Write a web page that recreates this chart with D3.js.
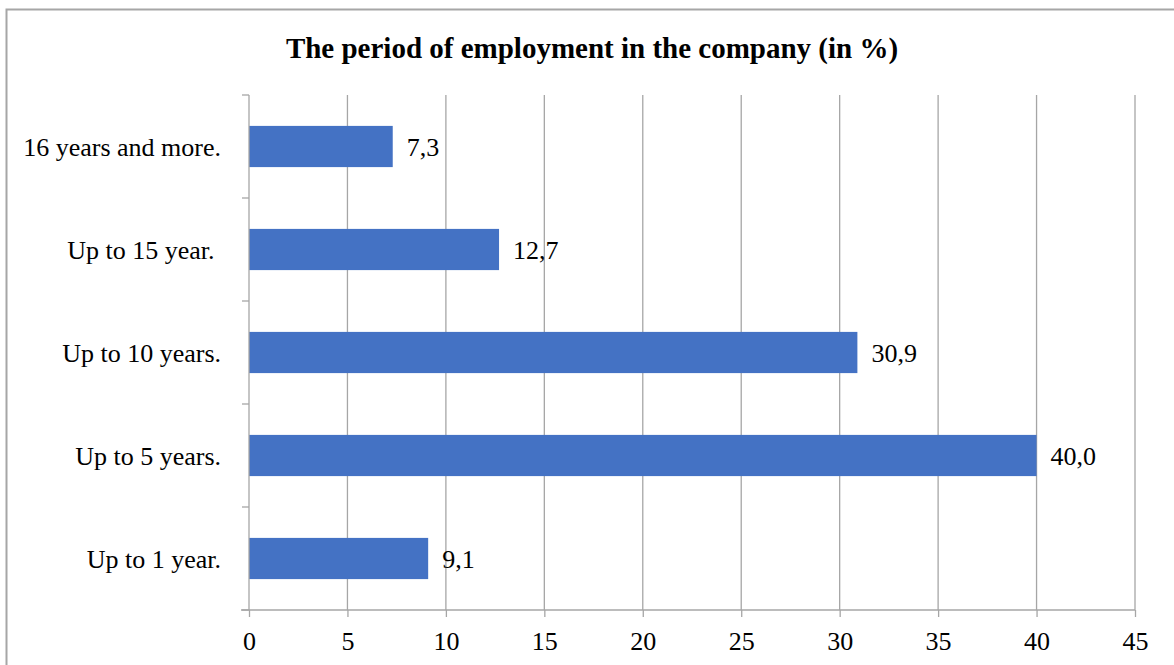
<!DOCTYPE html>
<html>
<head>
<meta charset="utf-8">
<script src="https://cdn.jsdelivr.net/npm/d3@7"></script>
<style>
  body { margin: 0; background: #fff; }
  svg { display: block; font-family: "Liberation Serif", "Times New Roman", serif; }
</style>
</head>
<body>
<svg id="chart" width="1174" height="665"></svg>
<script>
// Employment period categories, listed bottom to top
const categories = ["Up to 1 year.", "Up to 5 years.", "Up to 10 years.", "Up to 15 year. ", "16 years and more."];
const values = [9.1, 40.0, 30.9, 12.7, 7.3];
const xTicks = [0, 5, 10, 15, 20, 25, 30, 35, 40, 45];
const title = "The period of employment in the company (in %)";

const svg = d3.select("#chart");
const plot = { left: 249, right: 1135, top: 95, bottom: 610 };
const gridColor = "#a6a6a6";
const fontSize = 26;

// Outer frame
svg.append("rect")
  .attr("x", 6.5).attr("y", 9.5)
  .attr("width", 1180).attr("height", 680)
  .attr("fill", "none").attr("stroke", "#a6a6a6").attr("stroke-width", 2);

// Title
svg.append("text")
  .attr("x", 592).attr("y", 58)
  .attr("text-anchor", "middle")
  .attr("font-size", 29).attr("font-weight", "bold")
  .attr("fill", "#000")
  .text(title);

const x = d3.scaleLinear().domain([0, 45]).range([plot.left, plot.right]);
const y = d3.scaleBand()
  .domain(categories.slice().reverse())
  .range([plot.top, plot.bottom])
  .paddingInner(0.6).paddingOuter(0.3);

// Vertical gridlines
svg.append("g")
  .selectAll("line")
  .data(xTicks.filter(t => t > 0))
  .join("line")
  .attr("x1", d => x(d)).attr("x2", d => x(d))
  .attr("y1", plot.top).attr("y2", plot.bottom)
  .attr("stroke", gridColor).attr("stroke-width", 1.3);

// Bars
svg.append("g")
  .selectAll("rect")
  .data(categories)
  .join("rect")
  .attr("x", x(0))
  .attr("y", d => y(d))
  .attr("width", (d, i) => x(values[i]) - x(0))
  .attr("height", y.bandwidth())
  .attr("fill", "#4472c4");

// Value labels
svg.append("g")
  .selectAll("text")
  .data(categories)
  .join("text")
  .attr("x", (d, i) => x(values[i]) + 14)
  .attr("y", d => y(d) + y.bandwidth() / 2)
  .attr("dy", "0.35em")
  .attr("font-size", fontSize)
  .attr("fill", "#000")
  .text((d, i) => d3.format(".1f")(values[i]).replace(".", ","));

// Bottom axis
const xAxis = d3.axisBottom(x).tickValues(xTicks).tickSize(7).tickPadding(15).tickFormat(d3.format("d"));
const gx = svg.append("g").attr("transform", `translate(0,${plot.bottom})`).call(xAxis);
gx.select(".domain").remove();
gx.selectAll(".tick line").attr("stroke", gridColor).attr("stroke-width", 1.3);
gx.selectAll(".tick text").attr("font-size", fontSize).attr("fill", "#000")
  .attr("font-family", "'Liberation Serif', 'Times New Roman', serif");
svg.append("line")
  .attr("x1", plot.left - 8).attr("x2", plot.right)
  .attr("y1", plot.bottom).attr("y2", plot.bottom)
  .attr("stroke", gridColor).attr("stroke-width", 1.3);

// Left axis with tick marks on band boundaries
const yEdges = d3.range(categories.length + 1).map(i => plot.top + i * y.step());
svg.append("line")
  .attr("x1", plot.left).attr("x2", plot.left)
  .attr("y1", plot.top).attr("y2", plot.bottom)
  .attr("stroke", gridColor).attr("stroke-width", 1.3);
svg.append("g")
  .selectAll("line")
  .data(yEdges)
  .join("line")
  .attr("x1", plot.left - 7).attr("x2", plot.left)
  .attr("y1", d => d).attr("y2", d => d)
  .attr("stroke", gridColor).attr("stroke-width", 1.3);

// Category labels
svg.append("g")
  .selectAll("text")
  .data(categories)
  .join("text")
  .attr("x", 221)
  .attr("y", d => y(d) + y.bandwidth() / 2)
  .attr("dy", "0.35em")
  .attr("text-anchor", "end")
  .attr("xml:space", "preserve")
  .style("white-space", "pre")
  .attr("font-size", fontSize)
  .attr("fill", "#000")
  .text(d => d);
</script>
</body>
</html>
